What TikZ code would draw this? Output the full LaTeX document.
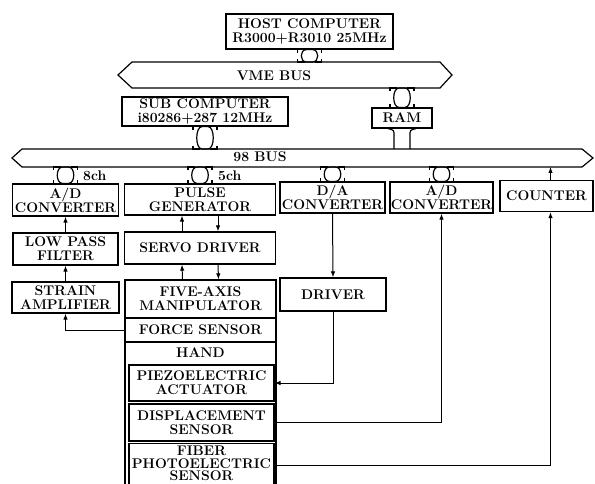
\documentclass[tikz,border=0pt]{standalone}
\usepackage{fontspec}
\usetikzlibrary{arrows.meta}

\tikzset{
  blk/.style={draw, line width=1.2pt, inner sep=0pt, align=center,
    font=\fontsize{14}{14}\selectfont\bfseries},
  txt/.style={inner sep=0pt, align=center, font=\fontsize{14}{14}\selectfont\bfseries},
  arr/.style={-{Latex[length=6pt,width=4.5pt]}, line width=1pt},
  bus/.style={line width=1.2pt},
}

% bus link symbol between a top point and a bottom point
\newcommand{\buslink}[2]{%
  \path (#1) coordinate (blt) (#2) coordinate (blb);
  \draw[bus] ([xshift=-3pt]blt) .. controls ([xshift=-10pt]blt) and ([xshift=-10pt]blb) .. ([xshift=-3pt]blb)
    -- ([xshift=3pt]blb) .. controls ([xshift=10pt]blb) and ([xshift=10pt]blt) .. ([xshift=3pt]blt) -- cycle;
  \foreach \s in {-1,1} {
    \draw[bus] ([xshift=\s*5pt]blt) -- ([xshift=\s*12pt]blt) -- ([xshift=\s*12pt,yshift=-3pt]blt);
    \draw[bus] ([xshift=\s*5pt]blb) -- ([xshift=\s*12pt]blb) -- ([xshift=\s*12pt,yshift=3pt]blb);
  }}

\begin{document}
\begin{tikzpicture}[x=1pt, y=-1pt]
\clip (0,0) rectangle (595,484);

% buses
\draw[bus] (118,75) -- (132,62) -- (440,62) -- (452,75) -- (440,88) -- (132,88) -- cycle;
\node[txt] (vme) at (274,76) {VME BUS};
\draw[bus] (12,158) -- (22,149) -- (582,149) -- (593,158) -- (582,167) -- (22,167) -- cycle;
\node[txt] (bus98) at (260,157) {98 BUS};
\coordinate (vmeT) at (0,62);
\coordinate (vmeB) at (0,88);
\coordinate (b98T) at (0,149);
\coordinate (b98B) at (0,167);

% computers
\node[blk, minimum width=167, minimum height=35] (host) at (309.5,31.5)
  {HOST COMPUTER\\R3000+R3010 25MHz};
\node[blk, minimum width=166, minimum height=29] (sub) at (205,111.5)
  {SUB COMPUTER\\i80286+287 12MHz};
\node[blk, minimum width=60, minimum height=20] (ram) at (402,118) {RAM};

% interface row
\node[blk, minimum width=106, minimum height=32] (adA) at (65.5,200) {A/D\\CONVERTER};
\node[blk, minimum width=151, minimum height=31] (pulse) at (200,199.5) {PULSE\\GENERATOR};
\node[blk, minimum width=105, minimum height=31] (da) at (332.5,197.5) {D/A\\CONVERTER};
\node[blk, minimum width=103, minimum height=31] (adB) at (441.5,197.5) {A/D\\CONVERTER};
\node[blk, minimum width=93, minimum height=31] (counter) at (546.5,196) {COUNTER};
\node[txt, anchor=west] (ch8) at (83,176) {8ch};
\node[txt, anchor=west] (ch5) at (218,176) {5ch};

% signal chain
\node[blk, minimum width=105, minimum height=32] (lpf) at (65.5,249) {LOW PASS\\FILTER};
\node[blk, minimum width=151, minimum height=32] (servo) at (200,248) {SERVO DRIVER};
\node[blk, minimum width=107, minimum height=31] (strain) at (65.5,297.5) {STRAIN\\AMPLIFIER};
\node[blk, minimum width=106, minimum height=33] (driver) at (333,294.5) {DRIVER};

% manipulator stack
\node[blk, minimum width=151, minimum height=38] (manip) at (200.5,299) {FIVE-AXIS\\MANIPULATOR};
\node[blk, minimum width=151, minimum height=24] (force) at (200.5,330) {FORCE SENSOR};
\node[blk, minimum width=151, minimum height=153] (hand) at (200.5,418.5) {};
\node[txt] (handtxt) at (200.5,353) {HAND};
\node[blk, minimum width=145, minimum height=36] (piezo) at (201.5,383) {PIEZOELECTRIC\\ACTUATOR};
\node[blk, minimum width=145, minimum height=37] (disp) at (201.5,422.5) {DISPLACEMENT\\SENSOR};
\node[blk, minimum width=145, minimum height=44, text depth=4pt,
  font=\fontsize{14}{12.5}\selectfont\bfseries] (fiber) at (201.5,465.5) {FIBER\\PHOTOELECTRIC\\SENSOR};

% bus links
\buslink{host.south}{host.south |- vmeT}
\buslink{ram.north |- vmeB}{ram.north}
\buslink{sub.south}{sub.south |- b98T}
\buslink{adA.north |- b98B}{adA.north}
\buslink{pulse.north |- b98B}{pulse.north}
\buslink{da.north |- b98B}{da.north}
\buslink{adB.north |- b98B}{adB.north}

% RAM to 98 BUS
\path (ram.south) coordinate (rs) (ram.south |- b98T) coordinate (rb);
\foreach \s in {-1,1} {
  \draw[bus] ([xshift=\s*8pt]rb) -- ([xshift=\s*8pt,yshift=13pt]rb)
    .. controls ([xshift=\s*8pt,yshift=19pt]rb) .. ([xshift=\s*14pt]rs);
}

% signal lines
\draw[arr] (lpf.north) -- (adA.south);
\draw[arr] (strain.north) -- (lpf.south);
\draw[arr] ([xshift=-18pt]servo.north) -- ([xshift=-18pt]pulse.south);
\draw[arr] ([xshift=18pt]pulse.south) -- ([xshift=18pt]servo.north);
\draw[arr] ([xshift=-18pt]manip.north) -- ([xshift=-18pt]servo.south);
\draw[arr] ([xshift=18pt]servo.south) -- ([xshift=18pt]manip.north);
\draw[arr] (force.west) -| (strain.south);
\draw[arr] (da.south) -- (driver.north);
\draw[arr] (driver.south) |- (piezo.east);
\draw[arr] (disp.east) -| (adB.south);
\draw[arr] (fiber.east) -| ([xshift=4pt]counter.south);
\draw[arr] ([xshift=4pt]counter.north) -- ([xshift=4pt]counter.north |- b98B);

\end{tikzpicture}
\end{document}
